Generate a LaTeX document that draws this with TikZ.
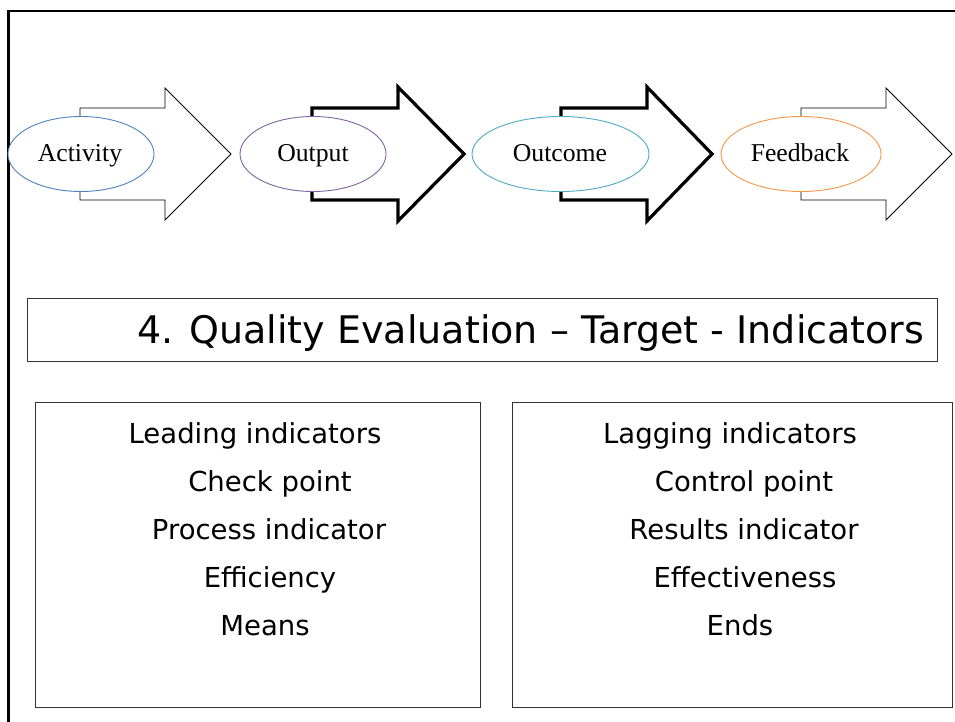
\documentclass[tikz,border=0pt]{standalone}
\usepackage{fontspec}
\setmainfont{Liberation Serif}
\newfontfamily\bodyfont{DejaVu Sans}
\usetikzlibrary{shapes.geometric}
\definecolor{ablue}{HTML}{4F81BD}
\definecolor{apurple}{HTML}{8064A2}
\definecolor{acyan}{HTML}{4BACC6}
\definecolor{aorange}{HTML}{F79646}
\tikzset{
  thinarrow/.style={draw=black, fill=white, line width=0.9pt, line join=miter},
  thickarrow/.style={draw=black, fill=white, line width=3.2pt, line join=miter},
  stage/.style={ellipse, fill=white, line width=0.9pt, minimum width=146pt, minimum height=75pt, inner sep=0pt, font=\fontsize{25.7}{28}\selectfont},
  panel/.style={draw=black!80, line width=1pt},
  bodytext/.style={anchor=base, inner sep=0pt, font=\bodyfont\fontsize{27.5}{30}\selectfont},
  titletext/.style={anchor=base west, inner sep=0pt, font=\bodyfont\fontsize{38}{42}\selectfont},
}
\begin{document}
\begin{tikzpicture}[x=1pt, y=-1pt]
\useasboundingbox (0,0) rectangle (955,722);
% frame
\draw[line width=2.5pt] (8.7,722) -- (8.7,11) -- (955,11);
% arrows
\draw[thinarrow] (80,108) -- (165,108) -- (165,88) -- (231,154) -- (165,220) -- (165,200) -- (80,200) -- cycle;
\draw[thickarrow] (312,108) -- (398,108) -- (398,87) -- (464,154) -- (398,221) -- (398,200) -- (312,200) -- cycle;
\draw[thickarrow] (561,108) -- (647,108) -- (647,87) -- (712,154) -- (647,221) -- (647,200) -- (561,200) -- cycle;
\draw[thinarrow] (801,108) -- (886,108) -- (886,88) -- (952,154) -- (886,220) -- (886,200) -- (801,200) -- cycle;
% stages
\node[stage, draw=ablue] (activity) at (81,154) {};
\node[stage, draw=apurple] (output) at (313,154) {};
\node[stage, draw=acyan, minimum width=177pt] (outcome) at (560.5,154) {};
\node[stage, draw=aorange, minimum width=160pt] (feedback) at (801,154) {};
\node[anchor=base, inner sep=0pt, font=\fontsize{25.7}{28}\selectfont] (tact) at (80,162) {Activity};
\node[anchor=base, inner sep=0pt, font=\fontsize{25.7}{28}\selectfont] (tout) at (313,162) {Output};
\node[anchor=base, inner sep=0pt, font=\fontsize{25.7}{28}\selectfont] (toc) at (560,162) {Outcome};
\node[anchor=base, inner sep=0pt, font=\fontsize{25.7}{28}\selectfont] (tfb) at (800,162) {Feedback};
% title
\draw[panel] (27,298) rectangle (937,361);
\node[titletext] (title) at (137,343) {4. Quality Evaluation – Target - Indicators};
% panels
\draw[panel] (35,402) rectangle (480,707);
\draw[panel] (512,402) rectangle (952,707);
\node[bodytext] (l1) at (255,443) {Leading indicators};
\node[bodytext] (l2) at (270,491) {Check point};
\node[bodytext] (l3) at (269,539) {Process indicator};
\node[bodytext] (l4) at (270,587) {Efficiency};
\node[bodytext] (l5) at (265,635) {Means};
\node[bodytext] (r1) at (730,443) {Lagging indicators};
\node[bodytext] (r2) at (744,491) {Control point};
\node[bodytext] (r3) at (744,539) {Results indicator};
\node[bodytext] (r4) at (745,587) {Effectiveness};
\node[bodytext] (r5) at (740,635) {Ends};
\end{tikzpicture}
\end{document}
